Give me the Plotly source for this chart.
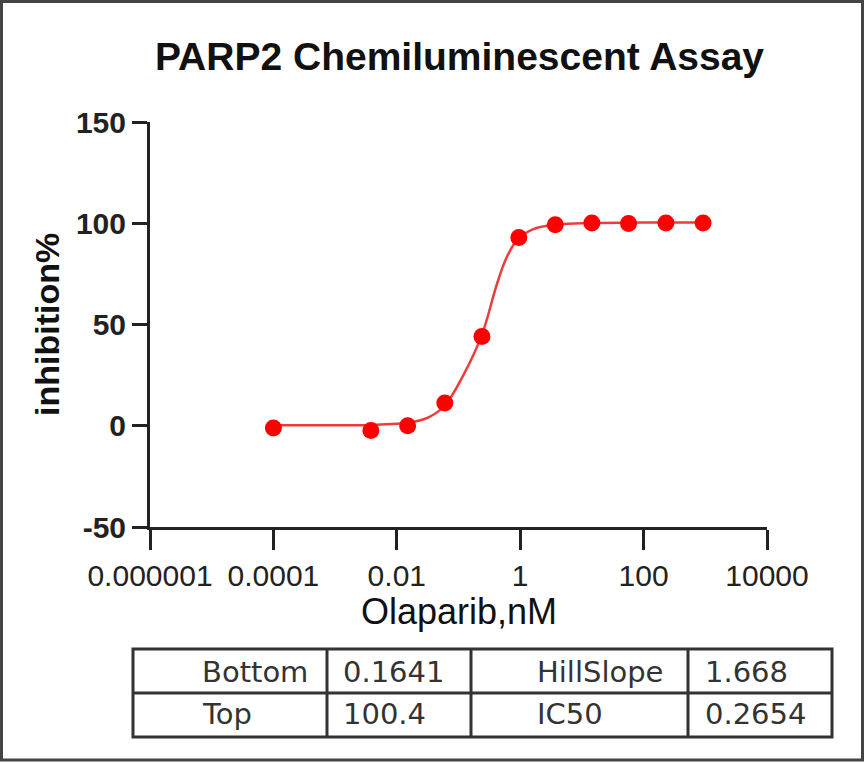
import plotly.graph_objects as go

# measured points (Olaparib, nM vs inhibition %)
conc = [0.0001, 0.0038, 0.015, 0.06, 0.24, 0.95, 3.7, 14.5, 57, 230, 920]
inhibition = [-1.1, -2.3, 0.0, 11.2, 44.1, 93.0, 99.3, 100.1, 99.9, 100.1, 100.1]

# fitted curve
curve_x = [0.0001, 0.001, 0.0032, 0.01, 0.016, 0.032, 0.06, 0.12, 0.24,
           0.42, 0.6, 0.91, 1.6, 3.6, 10, 100, 920]
curve_y = [0.2, 0.2, 0.3, 1.0, 1.5, 4.0, 10.0, 25.0, 45.0,
           70.0, 83.0, 92.0, 97.0, 99.3, 100.0, 100.4, 100.4]

x_ticks = [1e-6, 1e-4, 1e-2, 1, 100, 10000]
x_ticktext = ["0.000001", "0.0001", "0.01", "1", "100", "10000"]
y_ticks = [-50, 0, 50, 100, 150]
y_ticktext = ["-50", "0", "50", "100", "150"]

fit_names = [["Bottom", "Top"], ["HillSlope", "IC50"]]
fit_values = [["0.1641", "100.4"], ["1.668", "0.2654"]]

FONT = "Liberation Sans, Arial, sans-serif"

# plot area in pixels: x 150..767, y 122..527
L, R, T, B = 150, 98, 122, 236
W, H = 865, 763
PW, PH = W - L - R, H - T - B


def px(x):
    return (x - L) / PW


def py(y):
    return (H - B - y) / PH


fig = go.Figure()
fig.add_trace(go.Scatter(x=curve_x, y=curve_y, mode="lines", line_shape="spline",
                         line=dict(color="#ee3b3b", width=2.5), hoverinfo="skip"))
fig.add_trace(go.Scatter(x=conc, y=inhibition, mode="markers",
                         marker=dict(color="#ff0000", size=17)))

fig.update_xaxes(type="log", range=[-6, 4], tickvals=x_ticks, ticktext=x_ticktext,
                 showline=True, linecolor="#222", linewidth=3, ticks="outside",
                 ticklen=20, tickwidth=3, tickcolor="#222", showgrid=False,
                 zeroline=False, tickfont=dict(family=FONT, size=30, color="#222"))
fig.update_yaxes(range=[-50, 150], tickvals=y_ticks, ticktext=y_ticktext,
                 showline=True, linecolor="#222",
                 linewidth=3, ticks="outside", ticklen=15, tickwidth=3, tickcolor="#222",
                 showgrid=False, zeroline=False,
                 tickfont=dict(family=FONT, size=30, color="#222", weight="bold"))

ann = [
    dict(text="<b>PARP2 Chemiluminescent Assay</b>", x=px(459), y=py(56),
         font=dict(family=FONT, size=39, color="#111")),
    dict(text="<b>inhibition%</b>", x=px(47), y=py(325), textangle=-90,
         font=dict(family=FONT, size=34, color="#111")),
    dict(text="Olaparib,nM", x=px(459), y=py(611),
         font=dict(family=FONT, size=36, color="#111")),
]

# parameter table
row_y = [672, 714]
name_x = [200, 535]
value_x = [341, 703]
for c in range(2):
    for r in range(2):
        ann.append(dict(text=fit_names[c][r], x=px(name_x[c]), y=py(row_y[r]),
                        xanchor="left", font=dict(family="DejaVu Sans", size=29, color="#333")))
        ann.append(dict(text=fit_values[c][r], x=px(value_x[c]), y=py(row_y[r]),
                        xanchor="left", font=dict(family="DejaVu Sans", size=29, color="#333")))
for a in ann:
    a.update(xref="paper", yref="paper", showarrow=False)
    a.setdefault("xanchor", "center")
    a.setdefault("yanchor", "middle")

line = dict(color="#333", width=3)
shapes = [
    dict(type="rect", x0=px(133), x1=px(832), y0=py(649), y1=py(737), line=line),
    dict(type="line", x0=px(133), x1=px(832), y0=py(693), y1=py(693), line=line),
]
for vx in [327, 471, 688]:
    shapes.append(dict(type="line", x0=px(vx), x1=px(vx), y0=py(649), y1=py(737), line=line))
# outer frame of the image
shapes.append(dict(type="rect", x0=px(1.5), x1=px(862.5), y0=py(1.5), y1=py(760),
                   line=dict(color="#444", width=3)))
for s in shapes:
    s.update(xref="paper", yref="paper")

fig.update_layout(width=W, height=H, margin=dict(l=L, r=R, t=T, b=B),
                  plot_bgcolor="white", paper_bgcolor="white", showlegend=False,
                  annotations=ann, shapes=shapes)

# drop the page's default body margin so the figure sits at the window corner
fig.write_html("out.html", config={"displayModeBar": False},
               post_script="document.body.style.margin='0';")
